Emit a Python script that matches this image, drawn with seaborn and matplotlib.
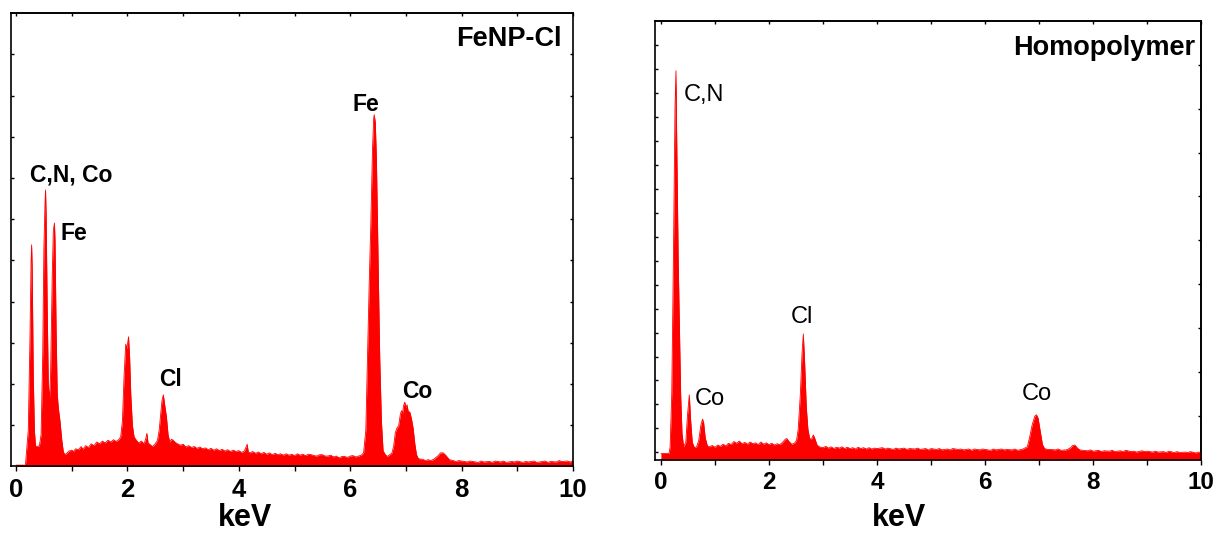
import numpy as np
import matplotlib
matplotlib.use("Agg")
import matplotlib.pyplot as plt
import seaborn as sns

# ==========================
# Data (keV, intensity in % of axis height)
# ==========================
fenp_kev = [0.00, 0.17, 0.18, 0.22, 0.25, 0.27, 0.28, 0.29, 0.31, 0.33, 0.35, 0.38, 0.42, 0.45,
            0.48, 0.50, 0.52, 0.53, 0.54, 0.56, 0.58, 0.60, 0.62, 0.65, 0.67, 0.69, 0.70, 0.72,
            0.74, 0.76, 0.79, 0.82, 0.85, 0.88, 0.91, 0.95, 1.00, 1.03, 1.07, 1.12, 1.17, 1.20,
            1.25, 1.30, 1.35, 1.40, 1.45, 1.50, 1.55, 1.60, 1.65, 1.70, 1.75, 1.80, 1.85, 1.88,
            1.91, 1.94, 1.97, 1.99, 2.02, 2.04, 2.06, 2.09, 2.12, 2.16, 2.20, 2.25, 2.30, 2.33,
            2.35, 2.37, 2.41, 2.45, 2.50, 2.54, 2.57, 2.60, 2.62, 2.645, 2.67, 2.70, 2.73, 2.76,
            2.79, 2.82, 2.86, 2.90, 2.95, 3.00, 3.05, 3.10, 3.15, 3.20, 3.25, 3.30, 3.35, 3.40,
            3.45, 3.50, 3.55, 3.60, 3.65, 3.70, 3.75, 3.80, 3.85, 3.90, 3.95, 4.00, 4.05, 4.10,
            4.15, 4.17, 4.20, 4.25, 4.30, 4.35, 4.40, 4.45, 4.50, 4.55, 4.60, 4.65, 4.70, 4.75,
            4.80, 4.85, 4.90, 4.95, 5.00, 5.05, 5.10, 5.15, 5.20, 5.25, 5.30, 5.35, 5.40, 5.45,
            5.50, 5.55, 5.60, 5.65, 5.70, 5.75, 5.80, 5.85, 5.90, 5.95, 6.00, 6.05, 6.10, 6.15,
            6.20, 6.24, 6.28, 6.31, 6.34, 6.37, 6.40, 6.42, 6.43, 6.45, 6.47, 6.49, 6.51, 6.53,
            6.56, 6.59, 6.62, 6.66, 6.70, 6.75, 6.78, 6.81, 6.84, 6.87, 6.90, 6.92, 6.94, 6.96,
            6.98, 7.00, 7.02, 7.04, 7.07, 7.10, 7.13, 7.16, 7.19, 7.22, 7.26, 7.30, 7.35, 7.40,
            7.45, 7.50, 7.54, 7.58, 7.62, 7.67, 7.72, 7.78, 7.85, 7.90, 7.95, 8.00, 8.10, 8.15,
            8.20, 8.30, 8.35, 8.40, 8.50, 8.55, 8.60, 8.70, 8.75, 8.80, 8.90, 8.95, 9.00, 9.10,
            9.15, 9.20, 9.30, 9.35, 9.40, 9.50, 9.55, 9.60, 9.70, 9.75, 9.80, 9.90, 9.95, 10.00]
fenp_counts = [0.3, 0.3, 2.0, 8.0, 28.0, 45.0, 48.9, 44.0, 20.0, 8.0, 4.5, 4.4, 4.6, 7.0,
               25.0, 48.0, 58.0, 61.0, 56.0, 35.0, 18.0, 14.7, 20.0, 42.0, 52.0, 53.7, 50.0, 30.0,
               16.0, 12.8, 10.0, 6.0, 3.2, 2.6, 2.9, 3.4, 3.6, 3.3, 3.9, 3.7, 4.4, 3.8,
               4.6, 4.2, 5.0, 4.6, 5.4, 5.0, 5.6, 5.2, 5.8, 5.4, 5.9, 5.5, 6.0, 6.6,
               10.0, 20.0, 27.0, 26.0, 28.6, 24.0, 16.0, 9.0, 6.5, 5.8, 5.2, 5.6, 5.0, 6.2,
               7.3, 5.2, 4.8, 4.4, 5.0, 5.8, 8.0, 12.0, 14.5, 15.8, 13.5, 11.0, 7.0, 5.4,
               6.0, 5.8, 5.3, 5.0, 4.7, 4.9, 4.3, 4.6, 4.2, 4.4, 4.0, 4.3, 3.9, 4.1,
               3.7, 4.0, 3.6, 3.9, 3.5, 3.8, 3.4, 3.7, 3.3, 3.6, 3.3, 3.5, 3.1, 3.4,
               4.9, 3.2, 3.0, 3.3, 2.9, 3.2, 2.8, 3.1, 2.7, 3.0, 2.6, 2.9, 2.6, 2.8,
               2.5, 2.8, 2.5, 2.7, 2.4, 2.8, 2.5, 2.7, 2.4, 2.7, 2.6, 2.4, 2.3, 2.6,
               2.6, 2.3, 2.3, 2.5, 2.1, 2.3, 1.9, 2.2, 2.2, 2.0, 2.3, 2.4, 2.1, 2.3,
               2.5, 3.0, 8.0, 24.0, 40.0, 53.6, 70.0, 76.5, 77.6, 76.0, 68.0, 53.6, 38.0, 24.0,
               10.0, 3.5, 2.8, 2.2, 2.5, 3.0, 4.5, 7.5, 8.5, 9.0, 11.5, 12.3, 11.8, 13.5,
               14.2, 13.0, 13.6, 12.2, 12.0, 10.5, 8.4, 5.0, 2.6, 1.8, 1.6, 1.6, 1.3, 1.5,
               1.3, 1.6, 2.0, 2.4, 3.0, 3.0, 2.4, 1.5, 1.3, 1.1, 1.3, 1.2, 1.0, 1.2,
               1.1, 0.9, 1.2, 1.0, 1.1, 0.9, 1.2, 1.0, 1.2, 0.9, 1.1, 1.0, 1.2, 0.9,
               1.1, 1.0, 1.2, 0.9, 1.0, 1.2, 0.9, 1.1, 1.0, 1.3, 1.1, 1.2, 1.0, 1.2]

homo_kev = [0.00, 0.15, 0.17, 0.20, 0.23, 0.26, 0.278, 0.29, 0.32, 0.365, 0.39, 0.42, 0.46, 0.49,
            0.525, 0.55, 0.58, 0.62, 0.66, 0.70, 0.74, 0.77, 0.79, 0.82, 0.86, 0.90, 0.95, 1.00,
            1.05, 1.10, 1.15, 1.20, 1.25, 1.30, 1.35, 1.40, 1.45, 1.50, 1.55, 1.60, 1.65, 1.70,
            1.75, 1.80, 1.85, 1.90, 1.95, 2.00, 2.05, 2.10, 2.15, 2.20, 2.25, 2.30, 2.33, 2.37,
            2.42, 2.47, 2.51, 2.54, 2.58, 2.61, 2.635, 2.66, 2.69, 2.72, 2.75, 2.78, 2.82, 2.85,
            2.89, 2.93, 3.00, 3.05, 3.10, 3.15, 3.20, 3.25, 3.30, 3.35, 3.40, 3.45, 3.50, 3.55,
            3.60, 3.65, 3.70, 3.75, 3.80, 3.85, 3.90, 3.95, 4.00, 4.10, 4.15, 4.20, 4.30, 4.35,
            4.40, 4.50, 4.55, 4.60, 4.70, 4.75, 4.80, 4.90, 4.95, 5.00, 5.10, 5.15, 5.20, 5.30,
            5.35, 5.40, 5.50, 5.55, 5.60, 5.70, 5.75, 5.80, 5.90, 5.95, 6.00, 6.10, 6.15, 6.20,
            6.30, 6.35, 6.40, 6.50, 6.55, 6.60, 6.70, 6.78, 6.82, 6.87, 6.92, 6.95, 6.98, 7.02,
            7.06, 7.10, 7.15, 7.20, 7.30, 7.35, 7.40, 7.50, 7.54, 7.58, 7.62, 7.66, 7.70, 7.75,
            7.80, 7.90, 7.95, 8.00, 8.10, 8.15, 8.20, 8.30, 8.35, 8.40, 8.50, 8.55, 8.60, 8.70,
            8.75, 8.80, 8.90, 8.95, 9.00, 9.10, 9.15, 9.20, 9.30, 9.35, 9.40, 9.50, 9.55, 9.60,
            9.70, 9.75, 9.80, 9.90, 9.95, 10.00]
homo_counts = [1.5, 1.5, 3.0, 15.0, 45.0, 80.0, 88.6, 75.0, 45.0, 15.0, 6.0, 3.0, 4.0, 10.0,
               14.8, 9.0, 4.0, 2.8, 3.0, 4.5, 8.0, 9.3, 8.5, 5.0, 3.2, 3.0, 3.3, 2.9,
               3.4, 3.1, 3.6, 3.2, 3.8, 3.5, 4.2, 3.8, 4.3, 3.7, 4.0, 3.6, 4.1, 3.7,
               3.9, 3.5, 4.1, 3.6, 3.9, 3.5, 3.8, 3.4, 3.7, 3.5, 4.0, 4.7, 4.9, 4.2,
               3.6, 3.8, 4.5, 7.0, 15.0, 24.0, 28.7, 22.0, 12.0, 7.0, 5.0, 4.6, 5.7, 4.8,
               3.4, 3.0, 2.8, 3.1, 2.7, 3.0, 2.6, 2.9, 2.7, 3.0, 2.6, 2.9, 2.6, 2.8,
               2.5, 2.9, 2.6, 2.8, 2.5, 2.8, 2.5, 2.7, 2.6, 2.8, 2.5, 2.7, 2.4, 2.7,
               2.5, 2.7, 2.4, 2.6, 2.5, 2.7, 2.4, 2.6, 2.3, 2.6, 2.4, 2.6, 2.3, 2.5,
               2.3, 2.6, 2.4, 2.5, 2.3, 2.5, 2.2, 2.5, 2.3, 2.5, 2.4, 2.2, 2.5, 2.3,
               2.5, 2.3, 2.4, 2.3, 2.5, 2.2, 2.5, 3.0, 5.0, 8.0, 10.0, 10.3, 9.5, 6.5,
               3.5, 2.6, 2.4, 2.4, 2.3, 2.5, 2.2, 2.3, 2.5, 2.8, 3.3, 3.4, 2.8, 2.3,
               2.2, 2.1, 2.3, 2.0, 2.2, 1.9, 2.1, 2.0, 2.2, 1.9, 2.1, 1.9, 2.2, 1.9,
               2.0, 1.8, 2.1, 1.9, 2.0, 1.8, 2.0, 1.8, 1.9, 1.7, 2.0, 1.7, 1.9, 1.7,
               1.8, 1.7, 1.9, 1.6, 1.8, 1.7]

# peak labels: text, keV, height (% of axis)
fenp_labels = ["C,N, Co", "Fe", "Cl", "Fe", "Co"]
fenp_label_x = [0.25, 0.80, 2.57, 6.04, 6.93]
fenp_label_y = [62.9, 50.0, 17.8, 78.4, 15.0]
homo_labels = ["C,N", "Co", "Cl", "Co"]
homo_label_x = [0.42, 0.62, 2.40, 6.68]
homo_label_y = [81.7, 12.6, 31.3, 13.6]

sns.set_theme(style="ticks")
plt.rcParams["font.family"] = ["Liberation Sans", "DejaVu Sans"]
plt.rcParams["axes.linewidth"] = 1.2
plt.rcParams["text.color"] = "black"
plt.rcParams["axes.labelcolor"] = "black"
plt.rcParams["axes.edgecolor"] = "black"
plt.rcParams["xtick.color"] = "black"
plt.rcParams["ytick.color"] = "black"

RED = "#FF0000"

fig = plt.figure(figsize=(12.17, 5.33), dpi=100)
ax1 = fig.add_axes([0.00904, 0.1248, 0.4618, 0.8505])
ax2 = fig.add_axes([0.5382, 0.137, 0.4489, 0.824])


def draw_panel(ax, kev, counts, xmin):
    sns.lineplot(x=kev, y=counts, ax=ax, color=RED, linewidth=0.6)
    ax.fill_between(kev, 0, counts, color=RED, linewidth=0)
    ax.set_xlim(xmin, 10)
    ax.set_ylim(0, 100)
    ax.set_xticks(np.arange(0, 11, 1))
    ax.set_xticklabels(["0", "", "2", "", "4", "", "6", "", "8", "", "10"])
    ax.tick_params(axis="x", direction="out", length=3.6, width=1.0, pad=5)
    ax.set_ylabel("")
    for s in ax.spines.values():
        s.set_visible(True)
        s.set_color("black")
    top = ax.secondary_xaxis("top")
    top.set_xticks(np.arange(0, 11, 1))
    top.tick_params(direction="in", length=2.2, width=1.0, labeltop=False)


# ==========================
# Left : FeNP-Cl
# ==========================
draw_panel(ax1, fenp_kev, fenp_counts, -0.09)
ax1.set_yticks(np.arange(1, 11) * 100 / 11)
ax1.tick_params(axis="y", direction="in", length=2.5, width=1.0,
                left=True, right=True, labelleft=False)
for lab in ax1.get_xticklabels():
    lab.set_fontsize(18.5)
    lab.set_fontweight("bold")
ax1.set_xlabel("keV", fontsize=22, fontweight="bold")
ax1.xaxis.set_label_coords(0.416, -0.0816)
ax1.xaxis.label.set_va("top")
for t, x, y in zip(fenp_labels, fenp_label_x, fenp_label_y):
    ax1.text(x, y, t, fontsize=16.5, fontweight="bold", va="baseline", ha="left")
ax1.text(9.8, 92.8, "FeNP-Cl", fontsize=19.5, fontweight="bold", va="baseline", ha="right")

# ==========================
# Right : Homopolymer
# ==========================
draw_panel(ax2, homo_kev, homo_counts, -0.11)
ax2.set_yticks([v for v in 100 - 5.46 * np.arange(0, 19) if 0 < v < 100])
ax2.tick_params(axis="y", direction="in", length=2.5, width=1.0,
                left=True, right=False, labelleft=False)
right = ax2.secondary_yaxis("right")
right.set_yticks(np.arange(10, 100, 10))
right.tick_params(direction="in", length=2.5, width=1.0, labelright=False)
for lab in ax2.get_xticklabels():
    lab.set_fontsize(17.5)
    lab.set_fontweight("bold")
ax2.tick_params(axis="x", pad=4.5)
ax2.set_xlabel("keV", fontsize=22, fontweight="bold")
ax2.xaxis.set_label_coords(0.447, -0.099)
ax2.xaxis.label.set_va("top")
for t, x, y in zip(homo_labels, homo_label_x, homo_label_y):
    ax2.text(x, y, t, fontsize=17, va="baseline", ha="left")
ax2.text(9.88, 92.1, "Homopolymer", fontsize=19.5, fontweight="bold", va="baseline", ha="right")

fig.savefig("out.png", dpi=100)
plt.close(fig)
